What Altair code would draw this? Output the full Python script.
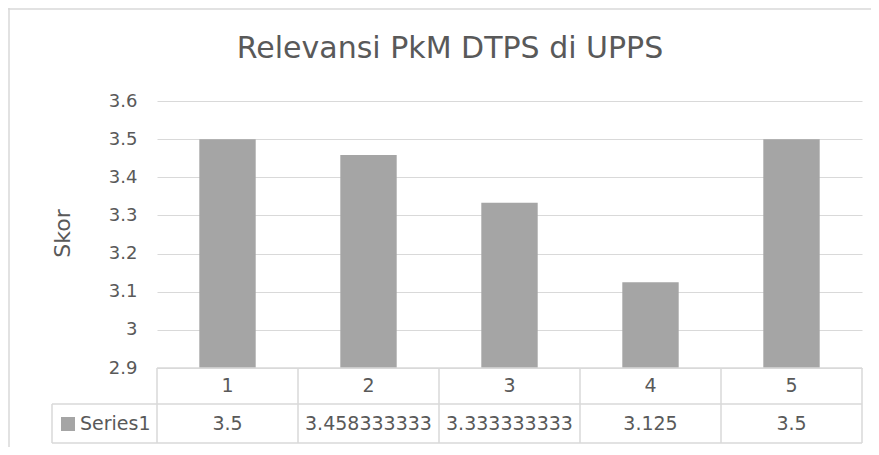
import altair as alt
import pandas as pd

# ---- data ----
chart_title = "Relevansi PkM DTPS di UPPS"
categories = ["1", "2", "3", "4", "5"]
scores = [3.5, 3.458333333, 3.333333333, 3.125, 3.5]
score_labels = ["3.5", "3.458333333", "3.333333333", "3.125", "3.5"]
series_name = "Series1"
y_ticks = [2.9, 3.0, 3.1, 3.2, 3.3, 3.4, 3.5, 3.6]
y_min, y_max = 2.9, 3.6

df = pd.DataFrame({"cat": categories, "val": scores, "label": score_labels})
one = pd.DataFrame({"series": [series_name], "title": [chart_title]})

FONT = "DejaVu Sans"
TXT = "#595959"
GRID = "#d9d9d9"
BAR = "#a5a5a5"

W, H = 705, 267
ROW1, ROW2 = 285, 323          # table row centres (px, relative to plot top)
T_TOP, T_MID, T_BOT = 267, 303, 342
LEG_L = -105

xscale = alt.Scale(domain=categories, paddingInner=0.6, paddingOuter=0.3)
X = alt.X("cat:N", scale=xscale, axis=None)

bars = alt.Chart(df).mark_bar(color=BAR).encode(
    x=X,
    y=alt.Y(
        "val:Q",
        scale=alt.Scale(domain=[y_min, y_max], nice=False, zero=False),
        axis=alt.Axis(
            values=y_ticks,
            labelExpr="format(datum.value, '~g')",
            grid=True, gridColor=GRID, gridWidth=1,
            domain=False, ticks=False, tickSize=0, labelPadding=20,
            labelFont=FONT, labelFontSize=18, labelColor=TXT,
            title="Skor", titleFont=FONT, titleFontSize=22, titleFontWeight="normal",
            titleColor=TXT, titleX=-95, titleY=132, titleAlign="center",
            titleBaseline="middle", titleAngle=270,
        ),
    ),
    y2=alt.datum(y_min),
)

cat_text = alt.Chart(df).mark_text(font=FONT, fontSize=19, color=TXT).encode(
    x=X, y=alt.value(ROW1), text="cat:N"
)
val_text = alt.Chart(df).mark_text(font=FONT, fontSize=19, color=TXT).encode(
    x=X, y=alt.value(ROW2), text="label:N"
)

vlines = alt.Chart(df).mark_rule(color=GRID, strokeWidth=1.5, xOffset=-70.5).encode(
    x=X, y=alt.value(T_TOP), y2=alt.value(T_BOT)
)

base1 = alt.Chart(one)
rule_style = dict(color=GRID, strokeWidth=1.5)
right_line = base1.mark_rule(**rule_style).encode(
    x=alt.value(W), y=alt.value(T_TOP), y2=alt.value(T_BOT))
leg_left = base1.mark_rule(**rule_style).encode(
    x=alt.value(LEG_L), y=alt.value(T_MID), y2=alt.value(T_BOT))
h_top = base1.mark_rule(**rule_style).encode(
    x=alt.value(0), x2=alt.value(W), y=alt.value(T_TOP))
h_mid = base1.mark_rule(**rule_style).encode(
    x=alt.value(LEG_L), x2=alt.value(W), y=alt.value(T_MID))
h_bot = base1.mark_rule(**rule_style).encode(
    x=alt.value(LEG_L), x2=alt.value(W), y=alt.value(T_BOT))

leg_sq = base1.mark_rect(color=BAR).encode(
    x=alt.value(-96), x2=alt.value(-82), y=alt.value(316), y2=alt.value(330))
leg_txt = base1.mark_text(font=FONT, fontSize=19, color=TXT, align="left").encode(
    x=alt.value(-77), y=alt.value(ROW2), text="series:N")

title_txt = base1.mark_text(
    font=FONT, fontSize=30, color=TXT, align="center", baseline="alphabetic"
).encode(x=alt.value(293), y=alt.value(-43), text="title:N")

frame_left = base1.mark_rule(color=GRID, strokeWidth=1.5).encode(
    x=alt.value(-148), y=alt.value(-93), y2=alt.value(H + 79))
frame_top = base1.mark_rule(color=GRID, strokeWidth=1.5).encode(
    x=alt.value(-149), x2=alt.value(W + 9), y=alt.value(-92))

chart = alt.layer(
    frame_left, frame_top,
    bars, h_top, h_mid, h_bot, vlines, right_line, leg_left,
    cat_text, val_text, leg_sq, leg_txt, title_txt,
).properties(
    width=W, height=H,
    background="white",
    autosize=alt.AutoSizeParams(type="none"),
    padding={"left": 149, "top": 93, "right": 9, "bottom": 79},
).configure_view(stroke=None)

chart.save("out.html", embed_options={"renderer": "svg", "actions": False})
